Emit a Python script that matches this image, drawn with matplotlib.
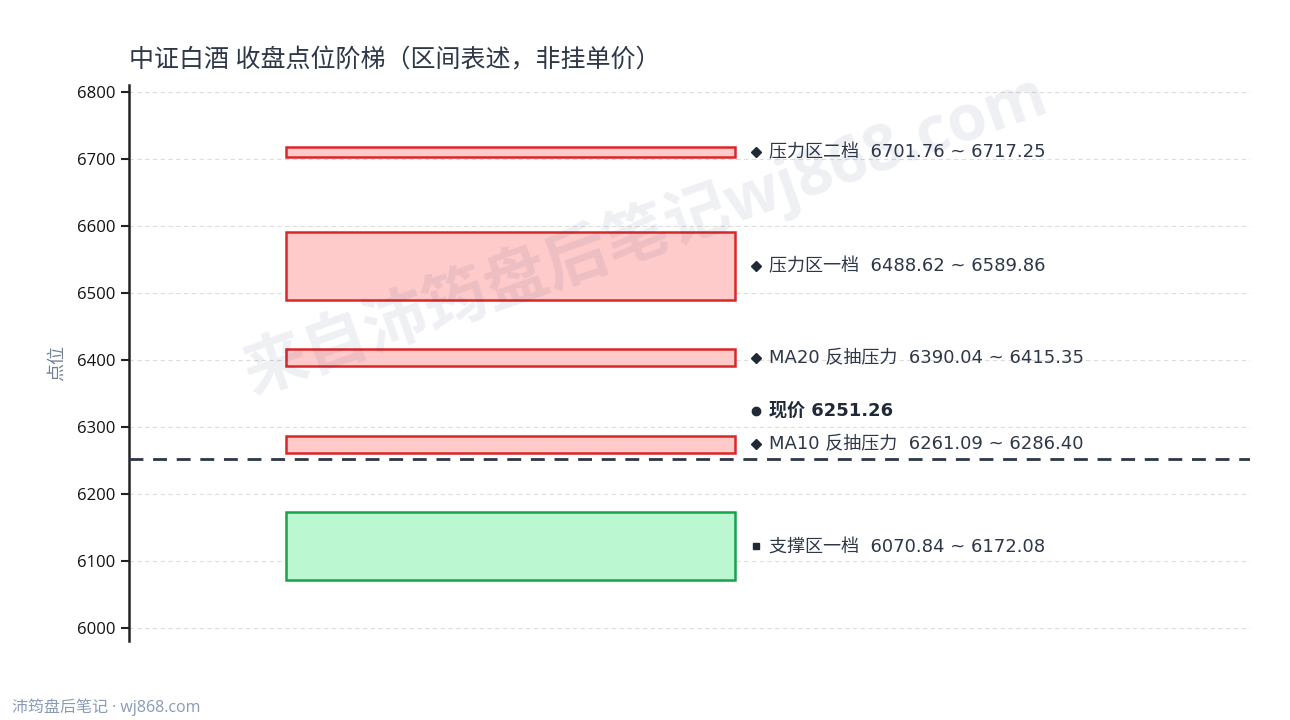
import matplotlib
matplotlib.use("Agg")
import matplotlib.pyplot as plt

FAM = ['Open Sans', 'Noto Sans CJK SC', 'DejaVu Sans']
LABEL_FAM = ['DejaVu Sans', 'Noto Sans CJK SC']
plt.rcParams['font.family'] = FAM

title = "中证白酒 收盘点位阶梯（区间表述，非挂单价）"
zone_names = ['压力区二档', '压力区一档', 'MA20 反抽压力', 'MA10 反抽压力', '支撑区一档']
zone_low = [6701.76, 6488.62, 6390.04, 6261.09, 6070.84]
zone_high = [6717.25, 6589.86, 6415.35, 6286.40, 6172.08]
zone_kind = ['resist', 'resist', 'resist', 'resist', 'support']
price = 6251.26
price_label = "现价 6251.26"
y_ticks = [6000, 6100, 6200, 6300, 6400, 6500, 6600, 6700, 6800]
y_label = "点位"
footer = "沛筠盘后笔记 · wj868.com"
watermark = "来自沛筠盘后笔记wj868.com"

fill = {'resist': '#fecaca', 'support': '#bbf7d0'}
edge = {'resist': '#dc2626', 'support': '#16a34a'}
marker = {'resist': 'D', 'support': 's'}

fig = plt.figure(figsize=(12.9, 7.2), dpi=100)
ax = fig.add_axes([0.1, 0.1097, 0.869, 0.7723])

ax.set_xlim(0, 1)
ax.set_ylim(5980, 6810)

box_x0, box_x1 = 0.14, 0.541
mk_x, tx_x = 0.5595, 0.5705
for name, lo, hi, kind in zip(zone_names, zone_low, zone_high, zone_kind):
    ax.bar((box_x0 + box_x1) / 2, hi - lo, bottom=lo, width=box_x1 - box_x0,
           color=fill[kind], edgecolor=edge[kind], linewidth=1.8, zorder=3)
    mid = (lo + hi) / 2
    ax.plot([mk_x], [mid], marker=marker[kind], markersize=4.8 if kind == 'resist' else 5,
            color='#1f2937', linestyle='none', zorder=4)
    ax.text(tx_x, mid, f"{name}  {lo:.2f} ~ {hi:.2f}", va='center', ha='left',
            fontsize=13, color='#2d3748', zorder=4, family=LABEL_FAM)

ax.axhline(price, color='#2d3748', linewidth=2, linestyle=(0, (5, 3.5)), zorder=5)
ax.plot([mk_x], [price + 72], marker='o', markersize=6, color='#1f2937', linestyle='none')
ax.text(tx_x, price + 72, price_label, va='center', ha='left', fontsize=13,
        fontweight='bold', color='#1f2937', family=LABEL_FAM)

ax.set_yticks(y_ticks)
ax.set_yticklabels([str(t) for t in y_ticks], fontsize=12, color='#111111')
ax.tick_params(axis='y', length=6, width=1.5, color='#222222', pad=4)
ax.set_xticks([])
ax.grid(axis='y', color='#dddddd', linestyle=(0, (4, 3)), linewidth=0.8, zorder=0)
for s in ['top', 'right', 'bottom']:
    ax.spines[s].set_visible(False)
ax.spines['left'].set_color('#222222')
ax.spines['left'].set_linewidth(1.8)
ax.set_ylabel(y_label, fontsize=13, color='#718096', labelpad=8)

fig.text(0.1, 0.915, title, fontsize=18, color='#2d3748', ha='left', va='center')
fig.text(0.009, 0.018, footer, fontsize=11.5, color='#8a9bb8', ha='left', va='center')
fig.text(0.5, 0.675, watermark, fontsize=46, fontweight='bold', color='#1e3a6e', alpha=0.08,
         rotation=19.5, ha='center', va='center', rotation_mode='anchor')

fig.savefig('out.png', dpi=100, facecolor='white')
